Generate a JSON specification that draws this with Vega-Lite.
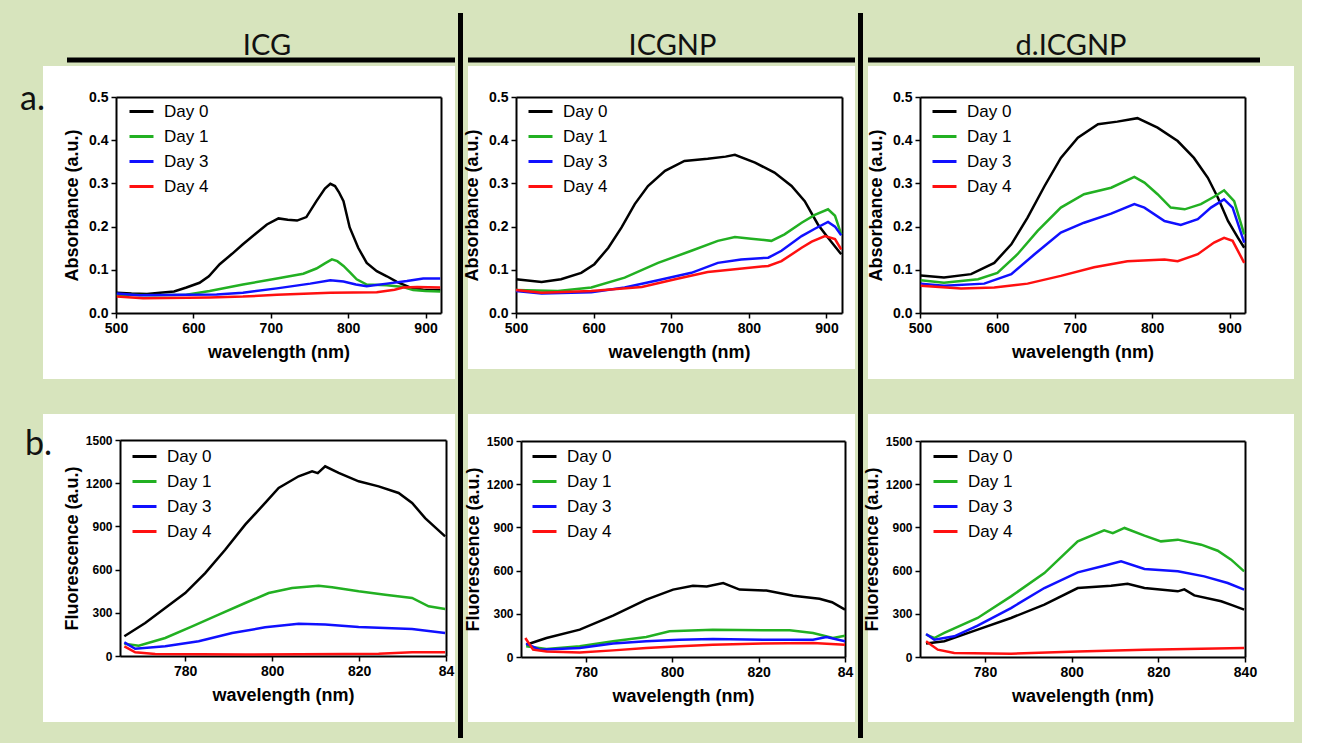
{
"$schema": "https://vega.github.io/schema/vega-lite/v6.json",
"background": "#d7e4bd",
"padding": {"left": 20, "top": 10, "right": 5, "bottom": 5},
"spacing": 0,
"resolve": {"scale": {"color": "independent"}, "legend": {"color": "independent"}},
"datasets": {
"aICG": [
{"d":"Day 0","x":501,"y":0.047},{"d":"Day 0","x":520,"y":0.045},{"d":"Day 0","x":540,"y":0.044},{"d":"Day 0","x":557,"y":0.047},{"d":"Day 0","x":575,"y":0.050},{"d":"Day 0","x":591,"y":0.059},{"d":"Day 0","x":608,"y":0.070},{"d":"Day 0","x":620,"y":0.085},{"d":"Day 0","x":634,"y":0.113},{"d":"Day 0","x":650,"y":0.137},{"d":"Day 0","x":664,"y":0.159},{"d":"Day 0","x":680,"y":0.183},{"d":"Day 0","x":695,"y":0.205},{"d":"Day 0","x":710,"y":0.219},{"d":"Day 0","x":722,"y":0.216},{"d":"Day 0","x":734,"y":0.214},{"d":"Day 0","x":746,"y":0.222},{"d":"Day 0","x":759,"y":0.259},{"d":"Day 0","x":770,"y":0.288},{"d":"Day 0","x":777,"y":0.299},{"d":"Day 0","x":783,"y":0.294},{"d":"Day 0","x":788,"y":0.280},{"d":"Day 0","x":794,"y":0.259},{"d":"Day 0","x":802,"y":0.198},{"d":"Day 0","x":813,"y":0.151},{"d":"Day 0","x":824,"y":0.116},{"d":"Day 0","x":837,"y":0.097},{"d":"Day 0","x":850,"y":0.085},{"d":"Day 0","x":863,"y":0.072},{"d":"Day 0","x":880,"y":0.059},{"d":"Day 0","x":897,"y":0.054},{"d":"Day 0","x":919,"y":0.053},
{"d":"Day 1","x":501,"y":0.042},{"d":"Day 1","x":550,"y":0.041},{"d":"Day 1","x":591,"y":0.042},{"d":"Day 1","x":621,"y":0.051},{"d":"Day 1","x":664,"y":0.066},{"d":"Day 1","x":708,"y":0.080},{"d":"Day 1","x":742,"y":0.091},{"d":"Day 1","x":759,"y":0.103},{"d":"Day 1","x":770,"y":0.115},{"d":"Day 1","x":779,"y":0.124},{"d":"Day 1","x":786,"y":0.120},{"d":"Day 1","x":794,"y":0.109},{"d":"Day 1","x":803,"y":0.093},{"d":"Day 1","x":811,"y":0.078},{"d":"Day 1","x":824,"y":0.066},{"d":"Day 1","x":850,"y":0.064},{"d":"Day 1","x":871,"y":0.060},{"d":"Day 1","x":884,"y":0.053},{"d":"Day 1","x":900,"y":0.051},{"d":"Day 1","x":919,"y":0.050},
{"d":"Day 3","x":501,"y":0.045},{"d":"Day 3","x":530,"y":0.041},{"d":"Day 3","x":591,"y":0.042},{"d":"Day 3","x":630,"y":0.043},{"d":"Day 3","x":664,"y":0.047},{"d":"Day 3","x":708,"y":0.057},{"d":"Day 3","x":751,"y":0.068},{"d":"Day 3","x":777,"y":0.076},{"d":"Day 3","x":794,"y":0.073},{"d":"Day 3","x":810,"y":0.066},{"d":"Day 3","x":824,"y":0.062},{"d":"Day 3","x":850,"y":0.068},{"d":"Day 3","x":876,"y":0.074},{"d":"Day 3","x":897,"y":0.080},{"d":"Day 3","x":919,"y":0.080},
{"d":"Day 4","x":501,"y":0.038},{"d":"Day 4","x":535,"y":0.034},{"d":"Day 4","x":621,"y":0.036},{"d":"Day 4","x":664,"y":0.038},{"d":"Day 4","x":708,"y":0.042},{"d":"Day 4","x":777,"y":0.047},{"d":"Day 4","x":837,"y":0.048},{"d":"Day 4","x":860,"y":0.054},{"d":"Day 4","x":871,"y":0.059},{"d":"Day 4","x":889,"y":0.060},{"d":"Day 4","x":919,"y":0.059}
],
"aNP": [
{"d":"Day 0","x":500,"y":0.078},{"d":"Day 0","x":533,"y":0.072},{"d":"Day 0","x":558,"y":0.078},{"d":"Day 0","x":584,"y":0.093},{"d":"Day 0","x":601,"y":0.113},{"d":"Day 0","x":619,"y":0.151},{"d":"Day 0","x":636,"y":0.198},{"d":"Day 0","x":653,"y":0.252},{"d":"Day 0","x":670,"y":0.294},{"d":"Day 0","x":692,"y":0.329},{"d":"Day 0","x":717,"y":0.352},{"d":"Day 0","x":747,"y":0.357},{"d":"Day 0","x":770,"y":0.362},{"d":"Day 0","x":782,"y":0.366},{"d":"Day 0","x":808,"y":0.348},{"d":"Day 0","x":833,"y":0.325},{"d":"Day 0","x":855,"y":0.294},{"d":"Day 0","x":872,"y":0.259},{"d":"Day 0","x":889,"y":0.205},{"d":"Day 0","x":902,"y":0.174},{"d":"Day 0","x":919,"y":0.136},
{"d":"Day 1","x":500,"y":0.053},{"d":"Day 1","x":554,"y":0.051},{"d":"Day 1","x":597,"y":0.059},{"d":"Day 1","x":640,"y":0.082},{"d":"Day 1","x":683,"y":0.116},{"d":"Day 1","x":726,"y":0.144},{"d":"Day 1","x":760,"y":0.167},{"d":"Day 1","x":782,"y":0.176},{"d":"Day 1","x":803,"y":0.172},{"d":"Day 1","x":829,"y":0.167},{"d":"Day 1","x":846,"y":0.182},{"d":"Day 1","x":868,"y":0.209},{"d":"Day 1","x":885,"y":0.227},{"d":"Day 1","x":902,"y":0.240},{"d":"Day 1","x":911,"y":0.225},{"d":"Day 1","x":919,"y":0.182},
{"d":"Day 3","x":500,"y":0.051},{"d":"Day 3","x":533,"y":0.045},{"d":"Day 3","x":597,"y":0.048},{"d":"Day 3","x":640,"y":0.059},{"d":"Day 3","x":683,"y":0.076},{"d":"Day 3","x":726,"y":0.093},{"d":"Day 3","x":760,"y":0.116},{"d":"Day 3","x":790,"y":0.124},{"d":"Day 3","x":825,"y":0.128},{"d":"Day 3","x":842,"y":0.144},{"d":"Day 3","x":868,"y":0.178},{"d":"Day 3","x":885,"y":0.195},{"d":"Day 3","x":902,"y":0.211},{"d":"Day 3","x":911,"y":0.200},{"d":"Day 3","x":919,"y":0.180},
{"d":"Day 4","x":500,"y":0.053},{"d":"Day 4","x":533,"y":0.047},{"d":"Day 4","x":597,"y":0.051},{"d":"Day 4","x":662,"y":0.060},{"d":"Day 4","x":705,"y":0.078},{"d":"Day 4","x":747,"y":0.095},{"d":"Day 4","x":782,"y":0.101},{"d":"Day 4","x":825,"y":0.109},{"d":"Day 4","x":842,"y":0.120},{"d":"Day 4","x":868,"y":0.151},{"d":"Day 4","x":881,"y":0.165},{"d":"Day 4","x":898,"y":0.178},{"d":"Day 4","x":911,"y":0.171},{"d":"Day 4","x":919,"y":0.147}
],
"aD": [
{"d":"Day 0","x":501,"y":0.087},{"d":"Day 0","x":531,"y":0.082},{"d":"Day 0","x":566,"y":0.090},{"d":"Day 0","x":596,"y":0.116},{"d":"Day 0","x":618,"y":0.159},{"d":"Day 0","x":639,"y":0.221},{"d":"Day 0","x":661,"y":0.294},{"d":"Day 0","x":682,"y":0.359},{"d":"Day 0","x":704,"y":0.406},{"d":"Day 0","x":730,"y":0.437},{"d":"Day 0","x":755,"y":0.443},{"d":"Day 0","x":781,"y":0.451},{"d":"Day 0","x":807,"y":0.429},{"d":"Day 0","x":833,"y":0.398},{"d":"Day 0","x":854,"y":0.359},{"d":"Day 0","x":872,"y":0.313},{"d":"Day 0","x":885,"y":0.267},{"d":"Day 0","x":898,"y":0.213},{"d":"Day 0","x":911,"y":0.174},{"d":"Day 0","x":919,"y":0.151},
{"d":"Day 1","x":501,"y":0.076},{"d":"Day 1","x":531,"y":0.070},{"d":"Day 1","x":575,"y":0.078},{"d":"Day 1","x":600,"y":0.093},{"d":"Day 1","x":626,"y":0.136},{"d":"Day 1","x":652,"y":0.190},{"d":"Day 1","x":682,"y":0.244},{"d":"Day 1","x":712,"y":0.275},{"d":"Day 1","x":747,"y":0.290},{"d":"Day 1","x":777,"y":0.315},{"d":"Day 1","x":790,"y":0.302},{"d":"Day 1","x":807,"y":0.275},{"d":"Day 1","x":824,"y":0.244},{"d":"Day 1","x":842,"y":0.240},{"d":"Day 1","x":863,"y":0.252},{"d":"Day 1","x":880,"y":0.269},{"d":"Day 1","x":893,"y":0.284},{"d":"Day 1","x":906,"y":0.259},{"d":"Day 1","x":919,"y":0.182},
{"d":"Day 3","x":501,"y":0.068},{"d":"Day 3","x":531,"y":0.063},{"d":"Day 3","x":583,"y":0.068},{"d":"Day 3","x":618,"y":0.090},{"d":"Day 3","x":648,"y":0.136},{"d":"Day 3","x":682,"y":0.186},{"d":"Day 3","x":712,"y":0.209},{"d":"Day 3","x":747,"y":0.230},{"d":"Day 3","x":777,"y":0.252},{"d":"Day 3","x":790,"y":0.244},{"d":"Day 3","x":816,"y":0.213},{"d":"Day 3","x":837,"y":0.204},{"d":"Day 3","x":859,"y":0.217},{"d":"Day 3","x":876,"y":0.244},{"d":"Day 3","x":893,"y":0.263},{"d":"Day 3","x":904,"y":0.244},{"d":"Day 3","x":919,"y":0.163},
{"d":"Day 4","x":501,"y":0.063},{"d":"Day 4","x":553,"y":0.057},{"d":"Day 4","x":596,"y":0.059},{"d":"Day 4","x":639,"y":0.068},{"d":"Day 4","x":682,"y":0.086},{"d":"Day 4","x":725,"y":0.106},{"d":"Day 4","x":768,"y":0.120},{"d":"Day 4","x":816,"y":0.124},{"d":"Day 4","x":833,"y":0.120},{"d":"Day 4","x":859,"y":0.136},{"d":"Day 4","x":880,"y":0.163},{"d":"Day 4","x":893,"y":0.174},{"d":"Day 4","x":904,"y":0.167},{"d":"Day 4","x":919,"y":0.116}
],
"bICG": [
{"d":"Day 0","x":766,"y":137},{"d":"Day 0","x":770.8,"y":229},{"d":"Day 0","x":775.4,"y":333},{"d":"Day 0","x":780,"y":437},{"d":"Day 0","x":784.6,"y":576},{"d":"Day 0","x":789.2,"y":738},{"d":"Day 0","x":793.8,"y":912},{"d":"Day 0","x":798.4,"y":1063},{"d":"Day 0","x":801.5,"y":1167},{"d":"Day 0","x":806.1,"y":1248},{"d":"Day 0","x":809.2,"y":1282},{"d":"Day 0","x":810.5,"y":1270},{"d":"Day 0","x":812.2,"y":1317},{"d":"Day 0","x":815.3,"y":1271},{"d":"Day 0","x":819.9,"y":1213},{"d":"Day 0","x":824.5,"y":1178},{"d":"Day 0","x":829.1,"y":1132},{"d":"Day 0","x":832.2,"y":1063},{"d":"Day 0","x":835.2,"y":958},{"d":"Day 0","x":839.8,"y":831},
{"d":"Day 1","x":766,"y":85},{"d":"Day 1","x":769.3,"y":72},{"d":"Day 1","x":775.4,"y":125},{"d":"Day 1","x":781.6,"y":206},{"d":"Day 1","x":787.7,"y":287},{"d":"Day 1","x":793.8,"y":368},{"d":"Day 1","x":799.2,"y":437},{"d":"Day 1","x":804.6,"y":472},{"d":"Day 1","x":810.7,"y":488},{"d":"Day 1","x":813.8,"y":477},{"d":"Day 1","x":819.9,"y":449},{"d":"Day 1","x":826,"y":426},{"d":"Day 1","x":832.2,"y":403},{"d":"Day 1","x":836,"y":345},{"d":"Day 1","x":839.8,"y":326},
{"d":"Day 3","x":766,"y":95},{"d":"Day 3","x":768.5,"y":50},{"d":"Day 3","x":775.4,"y":67},{"d":"Day 3","x":783.1,"y":102},{"d":"Day 3","x":790.8,"y":160},{"d":"Day 3","x":798.4,"y":199},{"d":"Day 3","x":806.1,"y":224},{"d":"Day 3","x":812.2,"y":218},{"d":"Day 3","x":819.9,"y":201},{"d":"Day 3","x":826,"y":194},{"d":"Day 3","x":832.2,"y":187},{"d":"Day 3","x":839.8,"y":160},
{"d":"Day 4","x":766,"y":67},{"d":"Day 4","x":768.5,"y":26},{"d":"Day 4","x":773.1,"y":14},{"d":"Day 4","x":793.8,"y":10},{"d":"Day 4","x":816.8,"y":14},{"d":"Day 4","x":824.5,"y":16},{"d":"Day 4","x":832.2,"y":26},{"d":"Day 4","x":839.8,"y":26}
],
"bNP": [
{"d":"Day 0","x":766.2,"y":85},{"d":"Day 0","x":770.9,"y":132},{"d":"Day 0","x":778.6,"y":190},{"d":"Day 0","x":786.3,"y":287},{"d":"Day 0","x":794,"y":398},{"d":"Day 0","x":800.2,"y":468},{"d":"Day 0","x":804.8,"y":495},{"d":"Day 0","x":808,"y":490},{"d":"Day 0","x":811.8,"y":514},{"d":"Day 0","x":815.6,"y":468},{"d":"Day 0","x":821.8,"y":461},{"d":"Day 0","x":828,"y":426},{"d":"Day 0","x":834.1,"y":405},{"d":"Day 0","x":837,"y":380},{"d":"Day 0","x":840,"y":329},
{"d":"Day 1","x":766.2,"y":74},{"d":"Day 1","x":770.9,"y":56},{"d":"Day 1","x":778.6,"y":74},{"d":"Day 1","x":786.3,"y":109},{"d":"Day 1","x":794,"y":139},{"d":"Day 1","x":799.4,"y":178},{"d":"Day 1","x":809.4,"y":190},{"d":"Day 1","x":821,"y":185},{"d":"Day 1","x":827.2,"y":185},{"d":"Day 1","x":832.6,"y":167},{"d":"Day 1","x":837.2,"y":132},{"d":"Day 1","x":840,"y":148},
{"d":"Day 3","x":766.2,"y":93},{"d":"Day 3","x":769.3,"y":51},{"d":"Day 3","x":778.6,"y":62},{"d":"Day 3","x":786.3,"y":93},{"d":"Day 3","x":794,"y":109},{"d":"Day 3","x":801.7,"y":120},{"d":"Day 3","x":809.4,"y":125},{"d":"Day 3","x":821,"y":120},{"d":"Day 3","x":832.6,"y":120},{"d":"Day 3","x":835.7,"y":139},{"d":"Day 3","x":840,"y":109},
{"d":"Day 4","x":766,"y":132},{"d":"Day 4","x":767.8,"y":51},{"d":"Day 4","x":770.9,"y":39},{"d":"Day 4","x":778.6,"y":32},{"d":"Day 4","x":786.3,"y":46},{"d":"Day 4","x":794,"y":62},{"d":"Day 4","x":801.7,"y":74},{"d":"Day 4","x":809.4,"y":85},{"d":"Day 4","x":821,"y":93},{"d":"Day 4","x":832.6,"y":97},{"d":"Day 4","x":840,"y":85}
],
"bD": [
{"d":"Day 0","x":766.4,"y":93},{"d":"Day 0","x":770.6,"y":109},{"d":"Day 0","x":778.3,"y":190},{"d":"Day 0","x":786,"y":271},{"d":"Day 0","x":793.7,"y":363},{"d":"Day 0","x":801.4,"y":479},{"d":"Day 0","x":809.1,"y":495},{"d":"Day 0","x":812.9,"y":509},{"d":"Day 0","x":816.8,"y":479},{"d":"Day 0","x":824.5,"y":456},{"d":"Day 0","x":826,"y":470},{"d":"Day 0","x":828.3,"y":428},{"d":"Day 0","x":834.5,"y":387},{"d":"Day 0","x":837,"y":360},{"d":"Day 0","x":839.8,"y":329},
{"d":"Day 1","x":766.4,"y":155},{"d":"Day 1","x":768.3,"y":132},{"d":"Day 1","x":770.6,"y":167},{"d":"Day 1","x":778.3,"y":271},{"d":"Day 1","x":786,"y":421},{"d":"Day 1","x":793.7,"y":583},{"d":"Day 1","x":801.4,"y":803},{"d":"Day 1","x":807.5,"y":880},{"d":"Day 1","x":809.5,"y":860},{"d":"Day 1","x":812.2,"y":896},{"d":"Day 1","x":816.8,"y":843},{"d":"Day 1","x":820.6,"y":803},{"d":"Day 1","x":824.5,"y":815},{"d":"Day 1","x":829.9,"y":780},{"d":"Day 1","x":833.7,"y":738},{"d":"Day 1","x":836.8,"y":676},{"d":"Day 1","x":839.8,"y":595},
{"d":"Day 3","x":766.4,"y":160},{"d":"Day 3","x":768.3,"y":120},{"d":"Day 3","x":772.9,"y":144},{"d":"Day 3","x":778.3,"y":218},{"d":"Day 3","x":786,"y":340},{"d":"Day 3","x":793.7,"y":479},{"d":"Day 3","x":801.4,"y":588},{"d":"Day 3","x":807.5,"y":634},{"d":"Day 3","x":811.4,"y":664},{"d":"Day 3","x":816.8,"y":611},{"d":"Day 3","x":824.5,"y":595},{"d":"Day 3","x":830.6,"y":560},{"d":"Day 3","x":836,"y":514},{"d":"Day 3","x":839.8,"y":468},
{"d":"Day 4","x":766.4,"y":109},{"d":"Day 4","x":769.1,"y":51},{"d":"Day 4","x":772.9,"y":28},{"d":"Day 4","x":786,"y":23},{"d":"Day 4","x":801.4,"y":39},{"d":"Day 4","x":816.8,"y":51},{"d":"Day 4","x":839.8,"y":62}
]
},
"hconcat": [
{
"vconcat": [
{
"vconcat": [
{"width": 412, "height": 47, "data": {"values": [{"h": "ICG"}]}, "mark": {"type": "text", "font": "Lato", "fontSize": 29, "color": "#111111", "baseline": "alphabetic", "dx": 18, "dy": 18}, "encoding": {"text": {"field": "h", "type": "nominal"}}, "view": {"stroke": "black", "strokeWidth": 5, "strokeDash": [0, 459, 388, 5000]}},
{
"width": 412, "height": 313,
"view": {"fill": "white", "stroke": null},
"title": {"text": "a.", "orient": "top", "anchor": "start", "frame": "group", "align": "right", "baseline": "top", "dx": 2, "dy": 51, "offset": 0, "font": "Lato", "fontSize": 34, "fontWeight": "normal", "color": "#111111"},
"data": {"name": "aICG"},
"layer": [
{"mark": {"type": "line", "strokeWidth": 2.5}, "encoding": {
"x": {"field": "x", "type": "quantitative", "scale": {"domain": [500, 920], "range": [73, 398], "nice": false, "zero": false}, "axis": {"orient": "bottom", "offset": -66, "values": [500, 600, 700, 800, 900], "labelFontSize": 14, "title": "wavelength (nm)", "titlePadding": 8}},
"y": {"field": "y", "type": "quantitative", "scale": {"domain": [0, 0.5], "range": [247, 31], "nice": false, "zero": false}, "axis": {"orient": "left", "offset": -73, "values": [0, 0.1, 0.2, 0.3, 0.4, 0.5], "format": ".1f", "labelFontSize": 14, "title": "Absorbance (a.u.)", "titlePadding": 7}},
"color": {"field": "d", "type": "nominal", "scale": {"domain": ["Day 0", "Day 1", "Day 3", "Day 4"], "range": ["#000000", "#22b022", "#1010ff", "#ff1010"]}, "legend": {"title": null, "orient": "none", "legendX": 85, "legendY": 32}}
}},
{"mark": {"type": "line", "opacity": 0}, "encoding": {
"x": {"field": "x", "type": "quantitative", "scale": {"domain": [500, 920], "range": [73, 398], "nice": false, "zero": false}, "axis": {"orient": "top", "offset": -31, "labels": false, "ticks": false, "title": null}},
"y": {"field": "y", "type": "quantitative", "scale": {"domain": [0, 0.5], "range": [247, 31], "nice": false, "zero": false}, "axis": {"orient": "right", "offset": -14, "labels": false, "ticks": false, "title": null}}
}}
],
"resolve": {"axis": {"x": "independent", "y": "independent"}}
}
],
"spacing": 6, "bounds": "flush",
"resolve": {"scale": {"color": "independent"}, "legend": {"color": "independent"}}
},
{
"width": 412, "height": 308,
"view": {"fill": "white", "stroke": null},
"title": {"text": "b.", "orient": "top", "anchor": "start", "frame": "group", "align": "right", "baseline": "top", "dx": 9, "dy": 48, "offset": 0, "font": "Lato", "fontSize": 34, "fontWeight": "normal", "color": "#111111"},
"data": {"name": "bICG"},
"layer": [
{"mark": {"type": "line", "strokeWidth": 2.5}, "encoding": {
"x": {"field": "x", "type": "quantitative", "scale": {"domain": [765, 840], "range": [77, 403], "nice": false, "zero": false}, "axis": {"orient": "bottom", "offset": -66, "values": [780, 800, 820, 840], "labelExpr": "datum.value == 840 ? '84' : datum.label", "labelFontSize": 14, "title": "wavelength (nm)", "titlePadding": 8}},
"y": {"field": "y", "type": "quantitative", "scale": {"domain": [0, 1500], "range": [242, 26], "nice": false, "zero": false}, "axis": {"orient": "left", "offset": -77, "values": [0, 300, 600, 900, 1200, 1500], "format": "d", "labelFontSize": 12, "title": "Fluorescence (a.u.)", "titlePadding": 4}},
"color": {"field": "d", "type": "nominal", "scale": {"domain": ["Day 0", "Day 1", "Day 3", "Day 4"], "range": ["#000000", "#22b022", "#1010ff", "#ff1010"]}, "legend": {"title": null, "orient": "none", "legendX": 88, "legendY": 29}}
}},
{"mark": {"type": "line", "opacity": 0}, "encoding": {
"x": {"field": "x", "type": "quantitative", "scale": {"domain": [765, 840], "range": [77, 403], "nice": false, "zero": false}, "axis": {"orient": "top", "offset": -26, "labels": false, "ticks": false, "title": null}},
"y": {"field": "y", "type": "quantitative", "scale": {"domain": [0, 1500], "range": [242, 26], "nice": false, "zero": false}, "axis": {"orient": "right", "offset": -9, "labels": false, "ticks": false, "title": null}}
}}
],
"resolve": {"axis": {"x": "independent", "y": "independent"}}
}
],
"spacing": 35,
"resolve": {"scale": {"color": "independent"}, "legend": {"color": "independent"}}
},
{"width": 5, "height": 725, "data": {"values": []}, "mark": "point", "view": {"fill": "black", "stroke": null}},
{
"vconcat": [
{
"vconcat": [
{"width": 387, "height": 47, "data": {"values": [{"h": "ICGNP"}]}, "mark": {"type": "text", "font": "Lato", "fontSize": 29, "color": "#111111", "baseline": "alphabetic", "dx": 11, "dy": 18}, "encoding": {"text": {"field": "h", "type": "nominal"}}, "view": {"stroke": "black", "strokeWidth": 5, "strokeDash": [0, 434, 387, 5000]}},
{
"width": 387, "height": 303,
"view": {"fill": "white", "stroke": null},
"data": {"name": "aNP"},
"layer": [
{"mark": {"type": "line", "strokeWidth": 2.5}, "encoding": {
"x": {"field": "x", "type": "quantitative", "scale": {"domain": [500, 920], "range": [48, 374], "nice": false, "zero": false}, "axis": {"orient": "bottom", "offset": -56, "values": [500, 600, 700, 800, 900], "labelFontSize": 14, "title": "wavelength (nm)", "titlePadding": 8}},
"y": {"field": "y", "type": "quantitative", "scale": {"domain": [0, 0.5], "range": [247, 31], "nice": false, "zero": false}, "axis": {"orient": "left", "offset": -48, "values": [0, 0.1, 0.2, 0.3, 0.4, 0.5], "format": ".1f", "labelFontSize": 14, "title": "Absorbance (a.u.)", "titlePadding": 7}},
"color": {"field": "d", "type": "nominal", "scale": {"domain": ["Day 0", "Day 1", "Day 3", "Day 4"], "range": ["#000000", "#22b022", "#1010ff", "#ff1010"]}, "legend": {"title": null, "orient": "none", "legendX": 59, "legendY": 32}}
}},
{"mark": {"type": "line", "opacity": 0}, "encoding": {
"x": {"field": "x", "type": "quantitative", "scale": {"domain": [500, 920], "range": [48, 374], "nice": false, "zero": false}, "axis": {"orient": "top", "offset": -31, "labels": false, "ticks": false, "title": null}},
"y": {"field": "y", "type": "quantitative", "scale": {"domain": [0, 0.5], "range": [247, 31], "nice": false, "zero": false}, "axis": {"orient": "right", "offset": -13, "labels": false, "ticks": false, "title": null}}
}}
],
"resolve": {"axis": {"x": "independent", "y": "independent"}}
}
],
"spacing": 6, "bounds": "flush",
"resolve": {"scale": {"color": "independent"}, "legend": {"color": "independent"}}
},
{
"width": 387, "height": 308,
"view": {"fill": "white", "stroke": null},
"data": {"name": "bNP"},
"layer": [
{"mark": {"type": "line", "strokeWidth": 2.5}, "encoding": {
"x": {"field": "x", "type": "quantitative", "scale": {"domain": [765, 840], "range": [53, 377], "nice": false, "zero": false}, "axis": {"orient": "bottom", "offset": -65, "values": [780, 800, 820, 840], "labelExpr": "datum.value == 840 ? '84' : datum.label", "labelFontSize": 14, "title": "wavelength (nm)", "titlePadding": 8}},
"y": {"field": "y", "type": "quantitative", "scale": {"domain": [0, 1500], "range": [243, 27], "nice": false, "zero": false}, "axis": {"orient": "left", "offset": -53, "values": [0, 300, 600, 900, 1200, 1500], "format": "d", "labelFontSize": 12, "title": "Fluorescence (a.u.)", "titlePadding": 4}},
"color": {"field": "d", "type": "nominal", "scale": {"domain": ["Day 0", "Day 1", "Day 3", "Day 4"], "range": ["#000000", "#22b022", "#1010ff", "#ff1010"]}, "legend": {"title": null, "orient": "none", "legendX": 63, "legendY": 29}}
}},
{"mark": {"type": "line", "opacity": 0}, "encoding": {
"x": {"field": "x", "type": "quantitative", "scale": {"domain": [765, 840], "range": [53, 377], "nice": false, "zero": false}, "axis": {"orient": "top", "offset": -27, "labels": false, "ticks": false, "title": null}},
"y": {"field": "y", "type": "quantitative", "scale": {"domain": [0, 1500], "range": [243, 27], "nice": false, "zero": false}, "axis": {"orient": "right", "offset": -10, "labels": false, "ticks": false, "title": null}}
}}
],
"resolve": {"axis": {"x": "independent", "y": "independent"}}
}
],
"spacing": 45,
"resolve": {"scale": {"color": "independent"}, "legend": {"color": "independent"}}
},
{"width": 5, "height": 725, "data": {"values": []}, "mark": "point", "view": {"fill": "black", "stroke": null}},
{
"vconcat": [
{
"vconcat": [
{"width": 426, "height": 47, "data": {"values": [{"h": "d.ICGNP"}]}, "mark": {"type": "text", "font": "Lato", "fontSize": 29, "color": "#111111", "baseline": "alphabetic", "dx": -10, "dy": 18}, "encoding": {"text": {"field": "h", "type": "nominal"}}, "view": {"stroke": "black", "strokeWidth": 5, "strokeDash": [0, 507, 392, 5000]}},
{
"width": 426, "height": 313,
"view": {"fill": "white", "stroke": null},
"data": {"name": "aD"},
"layer": [
{"mark": {"type": "line", "strokeWidth": 2.5}, "encoding": {
"x": {"field": "x", "type": "quantitative", "scale": {"domain": [500, 920], "range": [52, 377], "nice": false, "zero": false}, "axis": {"orient": "bottom", "offset": -66, "values": [500, 600, 700, 800, 900], "labelFontSize": 14, "title": "wavelength (nm)", "titlePadding": 8}},
"y": {"field": "y", "type": "quantitative", "scale": {"domain": [0, 0.5], "range": [247, 31], "nice": false, "zero": false}, "axis": {"orient": "left", "offset": -52, "values": [0, 0.1, 0.2, 0.3, 0.4, 0.5], "format": ".1f", "labelFontSize": 14, "title": "Absorbance (a.u.)", "titlePadding": 7}},
"color": {"field": "d", "type": "nominal", "scale": {"domain": ["Day 0", "Day 1", "Day 3", "Day 4"], "range": ["#000000", "#22b022", "#1010ff", "#ff1010"]}, "legend": {"title": null, "orient": "none", "legendX": 63, "legendY": 32}}
}},
{"mark": {"type": "line", "opacity": 0}, "encoding": {
"x": {"field": "x", "type": "quantitative", "scale": {"domain": [500, 920], "range": [52, 377], "nice": false, "zero": false}, "axis": {"orient": "top", "offset": -31, "labels": false, "ticks": false, "title": null}},
"y": {"field": "y", "type": "quantitative", "scale": {"domain": [0, 0.5], "range": [247, 31], "nice": false, "zero": false}, "axis": {"orient": "right", "offset": -49, "labels": false, "ticks": false, "title": null}}
}}
],
"resolve": {"axis": {"x": "independent", "y": "independent"}}
}
],
"spacing": 6, "bounds": "flush",
"resolve": {"scale": {"color": "independent"}, "legend": {"color": "independent"}}
},
{
"width": 426, "height": 308,
"view": {"fill": "white", "stroke": null},
"data": {"name": "bD"},
"layer": [
{"mark": {"type": "line", "strokeWidth": 2.5}, "encoding": {
"x": {"field": "x", "type": "quantitative", "scale": {"domain": [765, 840], "range": [52, 377], "nice": false, "zero": false}, "axis": {"orient": "bottom", "offset": -65, "values": [780, 800, 820, 840], "labelFontSize": 14, "title": "wavelength (nm)", "titlePadding": 8}},
"y": {"field": "y", "type": "quantitative", "scale": {"domain": [0, 1500], "range": [243, 27], "nice": false, "zero": false}, "axis": {"orient": "left", "offset": -52, "values": [0, 300, 600, 900, 1200, 1500], "format": "d", "labelFontSize": 12, "title": "Fluorescence (a.u.)", "titlePadding": 4}},
"color": {"field": "d", "type": "nominal", "scale": {"domain": ["Day 0", "Day 1", "Day 3", "Day 4"], "range": ["#000000", "#22b022", "#1010ff", "#ff1010"]}, "legend": {"title": null, "orient": "none", "legendX": 64, "legendY": 29}}
}},
{"mark": {"type": "line", "opacity": 0}, "encoding": {
"x": {"field": "x", "type": "quantitative", "scale": {"domain": [765, 840], "range": [52, 377], "nice": false, "zero": false}, "axis": {"orient": "top", "offset": -27, "labels": false, "ticks": false, "title": null}},
"y": {"field": "y", "type": "quantitative", "scale": {"domain": [0, 1500], "range": [243, 27], "nice": false, "zero": false}, "axis": {"orient": "right", "offset": -49, "labels": false, "ticks": false, "title": null}}
}}
],
"resolve": {"axis": {"x": "independent", "y": "independent"}}
}
],
"spacing": 35,
"resolve": {"scale": {"color": "independent"}, "legend": {"color": "independent"}}
}
],
"config": {
"view": {"stroke": null},
"axis": {"grid": false, "labelFlush": false, "labelOverlap": false, "domainColor": "black", "domainWidth": 2, "tickColor": "black", "tickWidth": 1.5, "tickSize": 5, "labelColor": "black", "titleColor": "black", "labelFont": "Liberation Sans", "titleFont": "Liberation Sans", "labelFontWeight": "bold", "titleFontWeight": "bold", "titleFontSize": 18, "labelPadding": 3},
"legend": {"symbolType": "stroke", "symbolSize": 576, "symbolStrokeWidth": 3, "labelFont": "Liberation Sans", "labelFontSize": 17, "labelColor": "black", "labelOffset": 9, "rowPadding": 3, "padding": 0}
}
}
